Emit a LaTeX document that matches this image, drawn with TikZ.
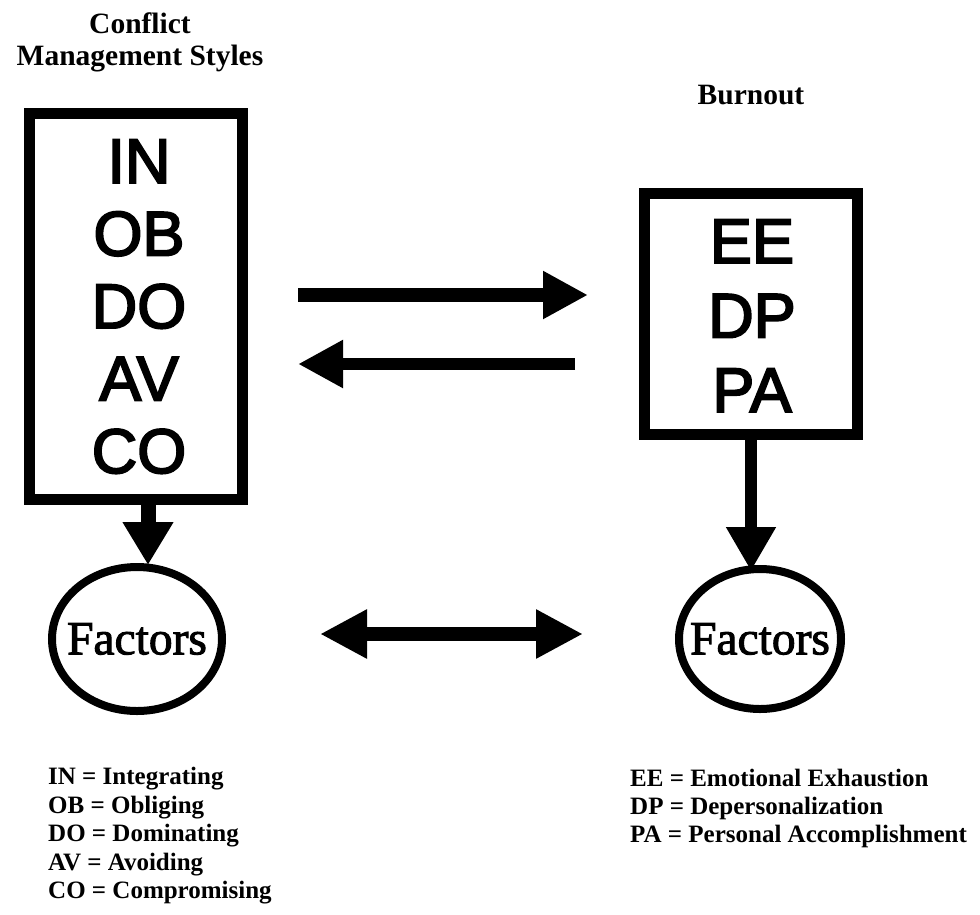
\documentclass[tikz,border=0pt]{standalone}
\usepackage{fontspec}
\setmainfont{Liberation Serif}
\newfontfamily\abbrfont{Liberation Sans}[FakeBold=3]
\newfontfamily\factorfont{Liberation Serif}[FakeBold=2]
\usetikzlibrary{arrows.meta,shapes.geometric}

\begin{document}
\begin{tikzpicture}[x=1pt,y=-1pt,
  frame/.style={draw, line width=11pt, inner sep=0pt, minimum width=213pt},
  abbr/.style={font=\abbrfont\fontsize{63}{63}\selectfont, anchor=base, inner sep=0pt},
  factor/.style={draw, ellipse, line width=8pt, inner sep=0pt},
  factortext/.style={font=\factorfont\fontsize{47.5}{47.5}\selectfont, inner sep=0pt},
  heading/.style={font=\bfseries\fontsize{29.5}{29.5}\selectfont, anchor=base, inner sep=0pt},
  key/.style={font=\bfseries\fontsize{25}{25}\selectfont, anchor=base west, inner sep=0pt},
  fat/.style={line width=#1},
]
\useasboundingbox (0,0) rectangle (980,914);

% headings
\node[heading] (h1) at (140,33) {Conflict};
\node[heading] (h2) at (140,65.5) {Management Styles};
\node[heading] (h3) at (751,104) {Burnout};

% boxes of abbreviations
\node[frame, minimum height=386pt] (lbox) at (136,306.5) {};
\node[abbr] (in) at (139,183) {IN};
\node[abbr] (ob) at (139,255.5) {OB};
\node[abbr] (do) at (139,328) {DO};
\node[abbr] (av) at (139,400.5) {AV};
\node[abbr] (co) at (139,473) {CO};

\node[frame, minimum height=241pt] (rbox) at (751,314) {};
\node[abbr] (ee) at (752,263) {EE};
\node[abbr] (dp) at (752,337.5) {DP};
\node[abbr] (pa) at (752,412) {PA};

% factor ellipses
\node[factor, minimum width=170pt, minimum height=144pt] (lfac) at (137,639) {};
\node[factortext] at (lfac.center) {Factors};
\node[factor, minimum width=162pt, minimum height=140pt] (rfac) at (760,639) {};
\node[factortext] at (rfac.center) {Factors};

% rows of the horizontal arrows
\coordinate (rowA) at (0,295);
\coordinate (rowB) at (0,364);
\coordinate (rowC) at (0,634);

\draw[fat=14pt, -{Triangle[length=45pt,width=45pt]}, shorten <=50pt, shorten >=51pt]
  (lbox.east |- rowA) -- (rbox.west |- rowA);
\draw[fat=12.5pt, -{Triangle[length=45pt,width=45pt]}, shorten <=64pt, shorten >=50pt]
  (rbox.west |- rowB) -- (lbox.east |- rowB);
\draw[fat=14pt, {Triangle[length=47pt,width=46pt]}-{Triangle[length=47pt,width=46pt]},
  shorten <=94pt, shorten >=92pt]
  (lfac.east |- rowC) -- (rfac.west |- rowC);

% vertical arrows
\draw[fat=15pt, -{Triangle[length=43pt,width=48pt]}, shorten >=-2pt]
  ([xshift=12pt]lbox.south) -- ([xshift=12pt]lbox.south |- lfac.north);
\draw[fat=12pt, -{Triangle[length=44pt,width=47pt]}, shorten >=-6pt]
  (rbox.south) -- (rbox.south |- rfac.north);

% keys
\node[key] (k1) at (48,784.5) {IN = Integrating};
\node[key] (k2) at (48,813) {OB = Obliging};
\node[key] (k3) at (48,841.5) {DO = Dominating};
\node[key] (k4) at (48,870) {AV = Avoiding};
\node[key] (k5) at (48,898.5) {CO = Compromising};

\node[key] (k6) at (630,786) {EE = Emotional Exhaustion};
\node[key] (k7) at (630,814) {DP = Depersonalization};
\node[key] (k8) at (630,842) {PA = Personal Accomplishment};
\end{tikzpicture}
\end{document}
